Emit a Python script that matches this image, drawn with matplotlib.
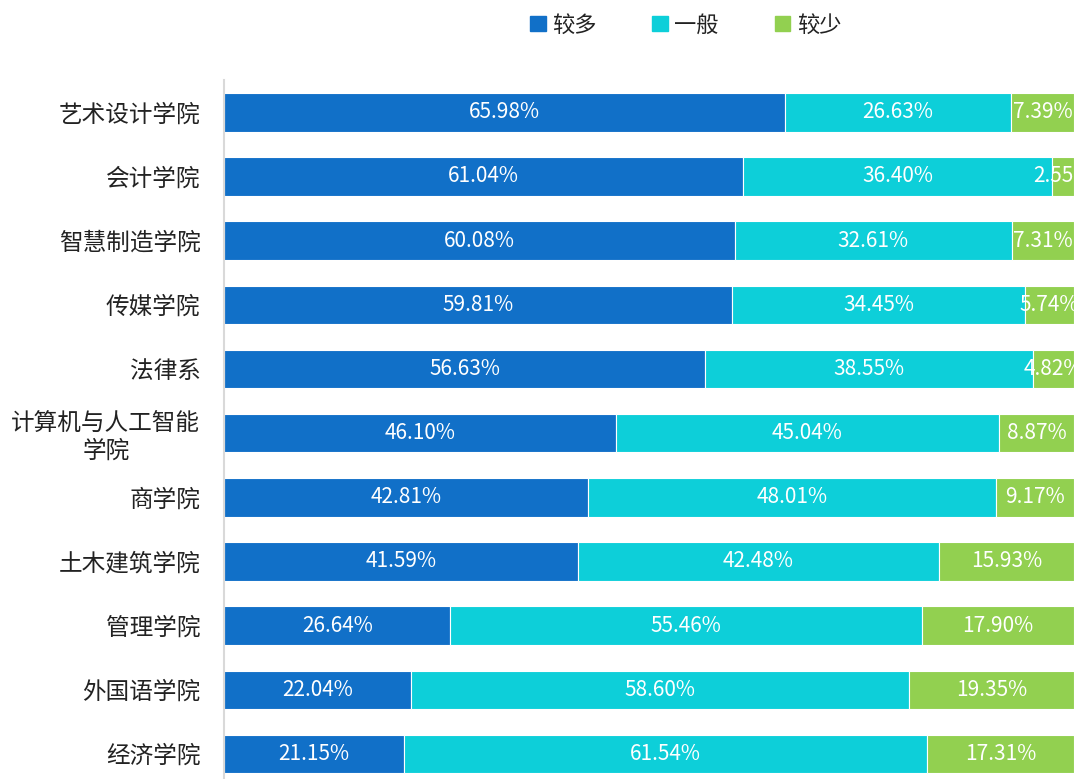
import matplotlib.pyplot as plt
from matplotlib.patches import Patch

plt.rcParams['font.family'] = ['Noto Sans CJK SC', 'DejaVu Sans']

colleges = ['艺术设计学院', '会计学院', '智慧制造学院', '传媒学院', '法律系',
            '计算机与人工智能\n学院', '商学院', '土木建筑学院', '管理学院',
            '外国语学院', '经济学院']
more = [65.98, 61.04, 60.08, 59.81, 56.63, 46.10, 42.81, 41.59, 26.64, 22.04, 21.15]
normal = [26.63, 36.40, 32.61, 34.45, 38.55, 45.04, 48.01, 42.48, 55.46, 58.60, 61.54]
less = [7.39, 2.55, 7.31, 5.74, 4.82, 8.87, 9.17, 15.93, 17.90, 19.35, 17.31]

legend = ['较多', '一般', '较少']
colors = ['#1170C8', '#0DCFD9', '#92D050']

fig = plt.figure(figsize=(10.78, 7.79), dpi=100)
ax = fig.add_axes([0.2078, -0.009, 0.7885, 0.906])

y = list(range(len(colleges)))
lefts = [0.0] * len(colleges)
for vals, c in zip([more, normal, less], colors):
    ax.barh(y, vals, left=lefts, height=0.6, color=c, edgecolor='white', linewidth=0.8)
    for i, v in enumerate(vals):
        # labels in the narrow last segments get cut at the right edge, as in the source
        ax.text(lefts[i] + v / 2, i, f'{v:.2f}%', ha='center', va='center',
                color='white', fontsize=15, clip_on=True)
    lefts = [l + v for l, v in zip(lefts, vals)]

ax.set_xlim(0, 100)
ax.set_ylim(len(colleges) - 0.5, -0.5)
ax.set_yticks(y)
ax.set_yticklabels(colleges, fontsize=17, color='#222222',
                   multialignment='center', linespacing=1.25)
ax.tick_params(axis='y', length=0, pad=17)
ax.set_xticks([])

for s in ['top', 'right', 'bottom']:
    ax.spines[s].set_visible(False)
ax.spines['left'].set_color('#D9D9D9')
ax.spines['left'].set_linewidth(1.5)

handles = [Patch(color=c, label=l) for c, l in zip(colors, legend)]
fig.legend(handles=handles, loc='center', bbox_to_anchor=(0.636, 0.968), ncol=3,
           frameon=False, fontsize=16, handlelength=0.7, handleheight=0.7,
           handletextpad=0.3, columnspacing=2.5, labelcolor='#222222')

fig.savefig('out.png', dpi=100)
